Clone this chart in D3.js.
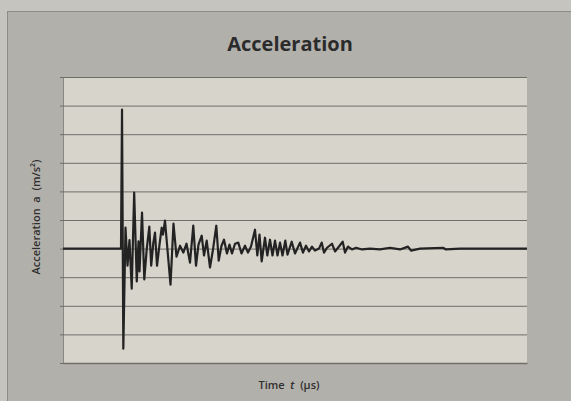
<!DOCTYPE html>
<html>
<head>
<meta charset="utf-8">
<script src="https://cdn.jsdelivr.net/npm/d3@7"></script>
<style>
  html, body { margin: 0; padding: 0; background: #c6c4bf; }
  svg { display: block; }
</style>
</head>
<body>
<svg id="chart" width="571" height="401"></svg>
<script>
// ---- data ----
const chartTitle = "Acceleration";
const xLabel = "Time";
const xVar = "t";
const xUnit = "(µs)";
const yLabel = "Acceleration  a  (m/s²)";
const xDomain = [0, 100];
const yDomain = [-4, 6];
const yTicks = [-4, -3, -2, -1, 0, 1, 2, 3, 4, 5, 6];

const time = [0, 12.5, 12.72, 13.0, 13.47, 13.9, 14.33, 14.81, 15.34, 15.9, 16.27, 16.49,
  17.03, 17.52, 18.04, 18.6, 19.01, 19.46, 19.83, 20.26, 20.8, 21.27, 21.55, 21.98,
  22.48, 23.17, 23.81, 24.46, 25.22, 25.93, 26.62, 27.37, 28.08, 28.66, 29.2, 29.89,
  30.39, 30.97, 31.68, 32.33, 33.04, 33.56, 34.16, 34.7, 35.34, 35.88, 36.42, 37.07,
  37.78, 38.47, 39.22, 39.87, 40.52, 41.38, 41.88, 42.35, 42.82, 43.53, 44.03, 44.61,
  45.15, 45.69, 46.23, 46.77, 47.31, 47.91, 48.38, 49.29, 50.0, 51.08, 51.72, 52.37,
  53.02, 53.66, 54.31, 55.17, 55.75, 56.25, 56.9, 57.97, 58.62, 59.27, 60.28, 60.78,
  61.42, 62.28, 63.15, 64.44, 66.16, 68.32, 70.47, 72.63, 74.35, 75.0, 76.94, 81.9,
  82.54, 85.56, 100];
const accel = [0, 0, 4.86, -3.5, 0.73, -0.6, 0.3, -1.4, 1.96, -1.15, 0.25, -0.8,
  1.26, -1.08, -0.03, 0.77, -0.6, 0.2, 0.56, -0.6, 0.14, 0.73, 0.49, 0.98,
  0.03, -1.26, 0.87, -0.28, 0.1, -0.14, 0.17, -0.49, 0.8, -0.6, 0.14, 0.45,
  -0.24, 0.28, -0.66, -0.03, 0.8, -0.42, 0.1, 0.31, -0.17, 0.14, -0.17, 0.17,
  0.21, -0.17, 0.1, -0.14, 0.07, 0.66, -0.24, 0.49, -0.45, 0.38, -0.24, 0.31,
  -0.24, 0.28, -0.24, 0.21, -0.24, 0.28, -0.21, 0.24, -0.17, 0.21, -0.14, 0.1,
  -0.1, 0.07, -0.07, 0, 0.21, -0.14, 0.03, 0.17, -0.1, 0.03, 0.24, -0.14,
  0.07, -0.03, 0.03, -0.03, 0, -0.03, 0.03, -0.03, 0.07, -0.07, 0, 0.03,
  -0.03, 0, 0];

// ---- layout ----
const W = 571, H = 401;
const plot = { left: 63, right: 527, top: 77, bottom: 363 };

const svg = d3.select("#chart");

// outer panel
svg.append("rect")
  .attr("x", 7.5).attr("y", 11.5)
  .attr("width", W).attr("height", H)
  .attr("fill", "#b2b0ab")
  .attr("stroke", "#8e8c88").attr("stroke-width", 1);

const x = d3.scaleLinear().domain(xDomain).range([plot.left, plot.right]);
const y = d3.scaleLinear().domain(yDomain).range([plot.bottom, plot.top]);

// plot background
svg.append("rect")
  .attr("x", plot.left).attr("y", plot.top)
  .attr("width", plot.right - plot.left).attr("height", plot.bottom - plot.top)
  .attr("fill", "#d7d4cc");

// y axis with gridlines
const yAxis = d3.axisLeft(y)
  .tickValues(yTicks)
  .tickSize(-(plot.right - plot.left))
  .tickSizeOuter(0)
  .tickFormat("");
const gy = svg.append("g")
  .attr("transform", `translate(${plot.left},0)`)
  .call(yAxis);
gy.selectAll(".tick line")
  .attr("x1", -3)
  .attr("stroke", "#6f6d69").attr("stroke-width", 1);
gy.select(".domain").attr("stroke", "#8a8884").attr("stroke-width", 1);

// x axis line
const xAxis = d3.axisBottom(x).tickValues([]).tickSizeOuter(0);
svg.append("g")
  .attr("transform", `translate(0,${plot.bottom})`)
  .call(xAxis)
  .select(".domain").attr("stroke", "#6f6d69").attr("stroke-width", 1.5);

// signal line
const pts = time.map((t, i) => [t, accel[i]]);
svg.append("path")
  .datum(pts)
  .attr("fill", "none")
  .attr("stroke", "#232323")
  .attr("stroke-width", 2.2)
  .attr("stroke-linejoin", "round")
  .attr("d", d3.line().x(d => x(d[0])).y(d => y(d[1])));

// title
svg.append("text")
  .attr("x", 290).attr("y", 51)
  .attr("text-anchor", "middle")
  .attr("font-family", "'Open Sans', sans-serif")
  .attr("font-weight", 700)
  .attr("font-size", 20)
  .attr("fill", "#2b2b2b")
  .text(chartTitle);

// x label
const xl = svg.append("text")
  .attr("x", 289).attr("y", 389)
  .attr("text-anchor", "middle")
  .attr("font-family", "'Open Sans', sans-serif")
  .attr("font-weight", 600)
  .attr("font-size", 11)
  .attr("fill", "#2f2f2f")
  .attr("xml:space", "preserve");
xl.append("tspan").text(xLabel + "  ");
xl.append("tspan").attr("font-style", "italic").text(xVar);
xl.append("tspan").text("  " + xUnit);

// y label
svg.append("text")
  .attr("transform", "translate(40,217) rotate(-90)")
  .attr("text-anchor", "middle")
  .attr("font-family", "'Open Sans', sans-serif")
  .attr("font-weight", 600)
  .attr("font-size", 11)
  .attr("fill", "#2f2f2f")
  .attr("xml:space", "preserve")
  .text(yLabel);
</script>
</body>
</html>
